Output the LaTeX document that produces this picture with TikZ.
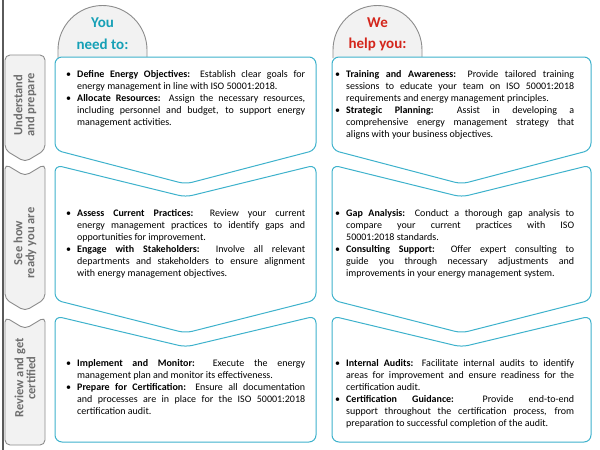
\documentclass[tikz,border=0pt]{standalone}
\usepackage{fontspec}
\setmainfont{Carlito}
\usepackage{xcolor}
\usepackage{tikz}

\definecolor{frameblue}{RGB}{62,178,204}
\definecolor{youteal}{RGB}{22,160,182}
\definecolor{wered}{RGB}{212,38,28}
\definecolor{tabfill}{RGB}{242,242,242}
\definecolor{tabline}{RGB}{140,140,140}
\definecolor{tabink}{RGB}{110,110,110}
\definecolor{barline}{RGB}{90,90,90}

% tight bullet list for the panels
\newenvironment{points}{\begin{list}{\textbullet}{%
  \setlength{\leftmargin}{12pt}\setlength{\labelwidth}{6pt}\setlength{\labelsep}{6pt}%
  \setlength{\itemsep}{0pt}\setlength{\topsep}{0pt}\setlength{\parsep}{0pt}%
  \setlength{\partopsep}{0pt}\setlength{\itemindent}{0pt}}}{\end{list}}

\begin{document}
\begin{tikzpicture}[x=1pt,y=-1pt,
  panel/.style={draw=frameblue, line width=1pt, fill=white, rounded corners=7pt},
  tabbox/.style={draw=tabline, line width=0.9pt, fill=tabfill, rounded corners=5pt},
  hood/.style={draw=tabline, line width=0.9pt, fill=tabfill},
  tablabel/.style={rotate=90, align=center, text=tabink, font=\fontsize{12.5}{12}\selectfont\bfseries},
  headline/.style={font=\fontsize{15}{18}\selectfont\bfseries},
  body/.style={anchor=north west, inner sep=0pt, text width=240pt, align=justify, font=\fontsize{10}{12}\selectfont}]
  \useasboundingbox (0,0) rectangle (600,450);

  \draw[barline, line width=1.6pt] (3,0) -- (3,450);

  % headers
  \draw[hood] (58,58) -- (58,50) arc[start angle=180, end angle=0, radius=44.5pt] -- (147,58);
  \draw[hood] (333,58) -- (333,50) arc[start angle=180, end angle=0, radius=44.5pt] -- (422,58);
  \node[headline, text=youteal] (you) at (102.5,23) {You};
  \node[headline, text=youteal] (need) at (102.5,44) {need to:};
  \node[headline, text=wered] (we) at (377.5,23) {We};
  \node[headline, text=wered] (help) at (377.5,44) {help you:};

  % side tabs
  \draw[tabbox] (5,55) -- (45,55) -- (45,150) -- (25,162) -- (5,150) -- cycle;
  \draw[tabbox] (5,164) -- (25,176) -- (45,164) -- (45,299) -- (25,311) -- (5,299) -- cycle;
  \draw[tabbox] (5,317) -- (25,329) -- (45,317) -- (45,445) -- (5,445) -- cycle;
  \node[tablabel] (stage1) at (25,105) {Understand\\and prepare};
  \node[tablabel] (stage2) at (25,243) {See how\\ready you are};
  \node[tablabel] (stage3) at (25,378) {Review and get\\certified};

  % panels
  \foreach \xl/\xr in {55/316,332/591} {
    \pgfmathsetmacro{\xm}{(\xl+\xr)/2}
    \draw[panel] (\xl,57) -- (\xr,57) -- (\xr,150) -- (\xm,184) -- (\xl,150) -- cycle;
    \draw[panel] (\xl,165) -- (\xm,197) -- (\xr,165) -- (\xr,300) -- (\xm,333) -- (\xl,300) -- cycle;
    \draw[panel] (\xl,316) -- (\xm,347) -- (\xr,316) -- (\xr,442) -- (\xl,442) -- cycle;
  }

  % texts
  \node[body] (need1) at (65,65) {\begin{points}
    \item \textbf{Define Energy Objectives:} Establish clear goals for\linebreak energy management in line with ISO 50001:2018.
    \item \textbf{Allocate Resources:} Assign the necessary resources,\linebreak including personnel and budget, to support energy\linebreak management activities.
  \end{points}};
  \node[body] (help1) at (334,65) {\begin{points}
    \item \textbf{Training and Awareness:} Provide tailored training\linebreak sessions to educate your team on ISO 50001:2018\linebreak requirements and energy management principles.
    \item \textbf{Strategic Planning:} Assist in developing a\linebreak comprehensive energy management strategy that\linebreak aligns with your business objectives.
  \end{points}};

  \node[body] (need2) at (65,204) {\begin{points}
    \item \textbf{Assess Current Practices:} Review your current\linebreak energy management practices to identify gaps and\linebreak opportunities for improvement.
    \item \textbf{Engage with Stakeholders:} Involve all relevant\linebreak departments and stakeholders to ensure alignment\linebreak with energy management objectives.
  \end{points}};
  \node[body] (help2) at (334,204) {\begin{points}
    \item \textbf{Gap Analysis:} Conduct a thorough gap analysis to\linebreak compare your current practices with ISO\linebreak 50001:2018 standards.
    \item \textbf{Consulting Support:} Offer expert consulting to\linebreak guide you through necessary adjustments and\linebreak improvements in your energy management system.
  \end{points}};

  \node[body] (need3) at (65,354) {\begin{points}
    \item \textbf{Implement and Monitor:} Execute the energy\linebreak management plan and monitor its effectiveness.
    \item \textbf{Prepare for Certification:} Ensure all documentation\linebreak and processes are in place for the ISO 50001:2018\linebreak certification audit.
  \end{points}};
  \node[body] (help3) at (334,354) {\begin{points}
    \item \textbf{Internal Audits:} Facilitate internal audits to identify\linebreak areas for improvement and ensure readiness for the\linebreak certification audit.
    \item \textbf{Certification Guidance:} Provide end-to-end\linebreak support throughout the certification process, from\linebreak preparation to successful completion of the audit.
  \end{points}};
\end{tikzpicture}
\end{document}
